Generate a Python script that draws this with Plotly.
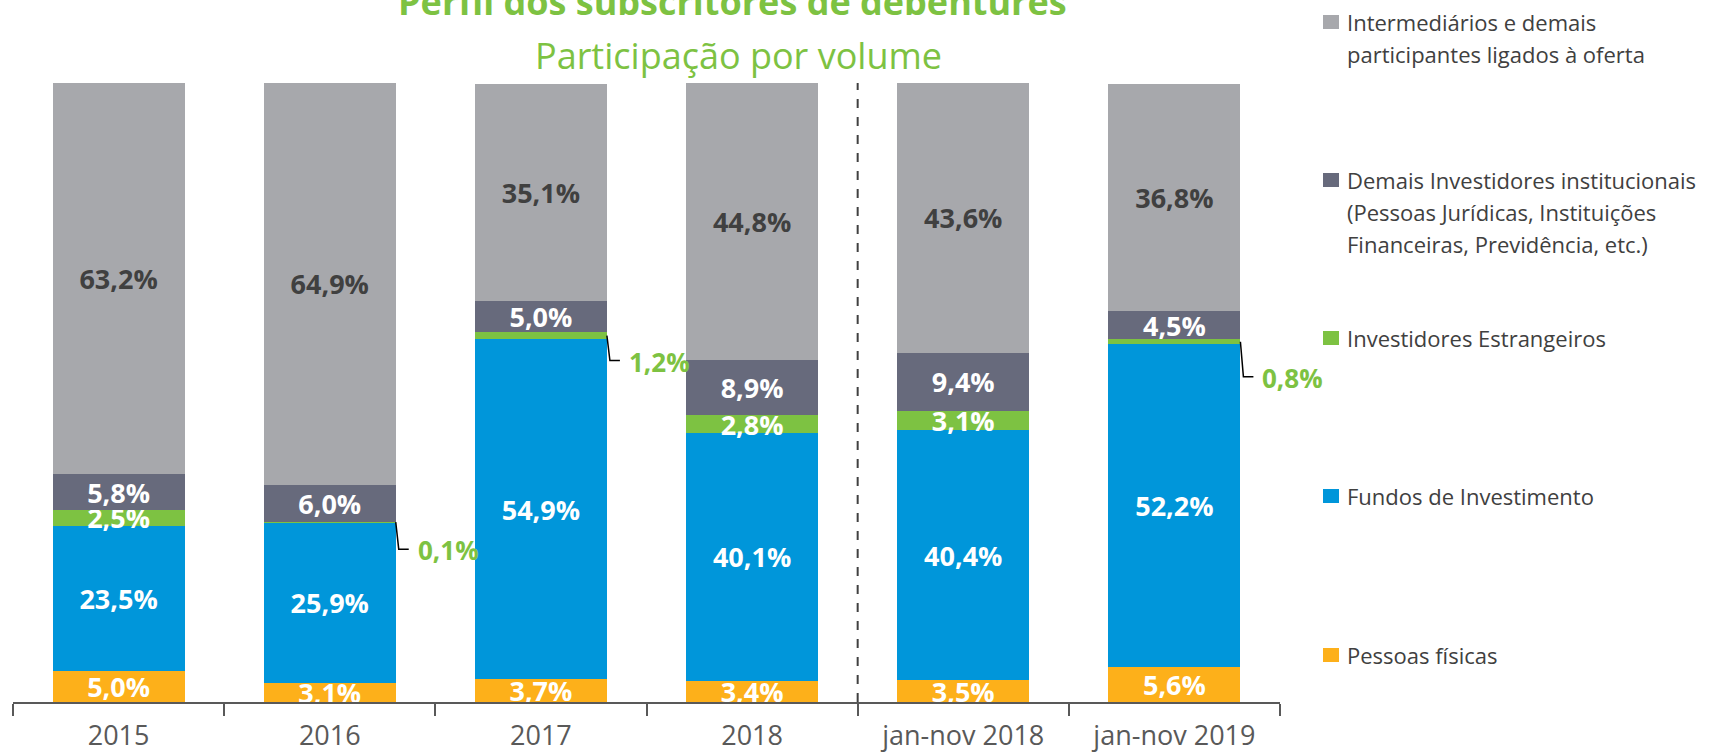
import plotly.graph_objects as go

categories = ["2015", "2016", "2017", "2018", "jan-nov 2018", "jan-nov 2019"]
pessoas_fisicas = [5.0, 3.1, 3.7, 3.4, 3.5, 5.6]
fundos = [23.5, 25.9, 54.9, 40.1, 40.4, 52.2]
estrangeiros = [2.5, 0.1, 1.2, 2.8, 3.1, 0.8]
demais_inst = [5.8, 6.0, 5.0, 8.9, 9.4, 4.5]
intermediarios = [63.2, 64.9, 35.1, 44.8, 43.6, 36.8]

series_names = [
    "Pessoas físicas",
    "Fundos de Investimento",
    "Investidores Estrangeiros",
    "Demais Investidores institucionais (Pessoas Jurídicas, Instituições Financeiras, Previdência, etc.)",
    "Intermediários e demais participantes ligados à oferta",
]
legend_lines = [
    ["Intermediários e demais", "participantes ligados à oferta"],
    ["Demais Investidores institucionais", "(Pessoas Jurídicas, Instituições", "Financeiras, Previdência, etc.)"],
    ["Investidores Estrangeiros"],
    ["Fundos de Investimento"],
    ["Pessoas físicas"],
]
colors = ["#FDB01A", "#0096DA", "#7DC242", "#676A7C", "#A7A8AC"]
label_colors = ["white", "white", "white", "white", "#404040"]
# which green values are shown as callouts outside the bar
callout_idx = [1, 2, 5]

FONT = "Open Sans"
LABEL_SIZE = 27
series = [pessoas_fisicas, fundos, estrangeiros, demais_inst, intermediarios]


def fmt(v):
    return f"{v:.1f}".replace(".", ",") + "%"


fig = go.Figure()
for s, (vals, name, col, lc) in enumerate(zip(series, series_names, colors, label_colors)):
    texts = []
    for i, v in enumerate(vals):
        if s == 2 and i in callout_idx:
            texts.append("")
        else:
            texts.append(fmt(v))
    fig.add_trace(go.Bar(
        x=categories, y=vals, name=name,
        marker=dict(color=col, line=dict(width=0)),
        text=texts, textposition="inside", insidetextanchor="middle",
        textangle=0,
        textfont=dict(family=FONT, size=LABEL_SIZE, color=lc, weight="bold"),
        showlegend=False, hoverinfo="x+y+name",
    ))

half_bar = 0.3125
GREEN = "#7DC242"
callout_dy = {1: 27, 2: 25, 5: 35}
for i in callout_idx:
    base = pessoas_fisicas[i] + fundos[i]
    mid = base + estrangeiros[i] / 2
    dy = callout_dy[i]
    fig.add_shape(
        type="path", xref="x", yref="y",
        xsizemode="pixel", ysizemode="pixel",
        xanchor=i + half_bar, yanchor=mid,
        path=f"M0,0 L3,{-dy} L13,{-dy}",
        line=dict(color="black", width=1.5),
    )
    fig.add_annotation(
        x=i + half_bar, y=mid, xref="x", yref="y",
        text=f"<b>{fmt(estrangeiros[i])}</b>", showarrow=False,
        xanchor="left", yanchor="middle", xshift=20, yshift=-dy - 1,
        font=dict(family=FONT, size=26, color=GREEN),
    )

# dashed separator
fig.add_shape(type="line", xref="x", yref="y", x0=3.5, x1=3.5, y0=0, y1=100,
              line=dict(color="#404040", width=2, dash="dash"))

# titles
fig.add_annotation(x=0.573, y=1.131, xref="paper", yref="paper",
                   text="<b>Perfil dos subscritores de debentures¹</b>", showarrow=False,
                   xanchor="center", yanchor="middle",
                   font=dict(family=FONT, size=36, color=GREEN))
fig.add_annotation(x=0.573, y=1.044, xref="paper", yref="paper",
                   text="Participação por volume", showarrow=False,
                   xanchor="center", yanchor="middle",
                   font=dict(family=FONT, size=36, color=GREEN))

# legend drawn as annotations
PL, PR, PT, PB = 13, 1280, 83, 702
def px_x(px):
    return (px - PL) / (PR - PL)
def px_y(py):
    return (PB - py) / (PB - PT)

legend_centers = [22, 180, 338, 496, 655]
legend_colors = [colors[4], colors[3], colors[2], colors[1], colors[0]]
for lines, cy, col in zip(legend_lines, legend_centers, legend_colors):
    fig.add_shape(type="rect", xref="paper", yref="paper",
                  x0=px_x(1323), x1=px_x(1339), y0=px_y(cy + 7), y1=px_y(cy - 7),
                  fillcolor=col, line=dict(width=0))
    for k, ln in enumerate(lines):
        fig.add_annotation(x=px_x(1345), y=px_y(cy + 32 * k), xref="paper", yref="paper",
                           text=ln, showarrow=False, xanchor="left", yanchor="middle",
                           font=dict(family=FONT, size=22, color="#404040"))

fig.update_layout(
    barmode="stack", bargap=0.375,
    width=1713, height=754,
    margin=dict(l=PL, r=1713 - PR, t=PT, b=754 - PB, autoexpand=False),
    paper_bgcolor="white", plot_bgcolor="white",
    uniformtext=dict(minsize=LABEL_SIZE, mode="show"),
    xaxis=dict(
        type="category", range=[-0.5, 5.5], automargin=False,
        showline=True, linecolor="#595959", linewidth=1.5,
        ticks="outside", ticklen=12, tickcolor="#595959", tickwidth=1.5,
        tickson="boundaries", ticklabelstandoff=9,
        tickfont=dict(family=FONT, size=27, color="#595959"),
        showgrid=False, zeroline=False,
    ),
    yaxis=dict(range=[0, 100], visible=False, showgrid=False, zeroline=False,
               automargin=False),
    font=dict(family=FONT),
)

fig.write_html(
    "out.html",
    config={"displayModeBar": False},
    post_script="document.body.style.margin='0px';document.body.style.padding='0px';document.body.style.overflow='hidden';",
)
